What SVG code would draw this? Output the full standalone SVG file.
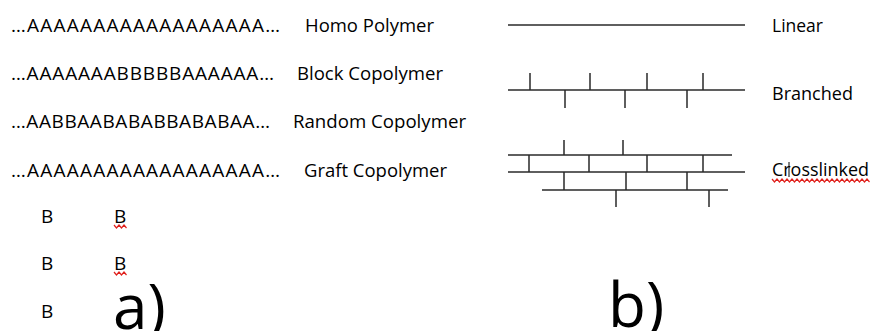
<svg xmlns="http://www.w3.org/2000/svg" width="872" height="331" viewBox="0 0 872 331">
<style>
.t{font-family:"Open Sans","Noto Sans","Liberation Sans",sans-serif;font-size:19px;fill:#000}
.big{font-family:"Open Sans","Noto Sans","Liberation Sans",sans-serif;font-size:62px;fill:#000}
.ln{stroke:#2a2a2a;stroke-width:1.5;fill:none}
.sq{stroke:#e0201c;stroke-width:1.2;fill:none}
</style>
<rect width="872" height="331" fill="#fff"/>
<g id="homo">
<text class="t" x="11" y="32" textLength="269" lengthAdjust="spacing">…AAAAAAAAAAAAAAAAAA…</text>
<text class="t" x="305" y="32" textLength="129" lengthAdjust="spacingAndGlyphs">Homo Polymer</text>
</g>
<g id="block">
<text class="t" x="11" y="80" textLength="263" lengthAdjust="spacing">…AAAAAAABBBBBAAAAAA…</text>
<text class="t" x="297" y="80" textLength="146" lengthAdjust="spacingAndGlyphs">Block Copolymer</text>
</g>
<g id="random">
<text class="t" x="11" y="128" textLength="259" lengthAdjust="spacing">…AABBAABABABBABABAA…</text>
<text class="t" x="293" y="128" textLength="173" lengthAdjust="spacingAndGlyphs">Random Copolymer</text>
</g>
<g id="graft">
<text class="t" x="11" y="177" textLength="269" lengthAdjust="spacing">…AAAAAAAAAAAAAAAAAA…</text>
<text class="t" x="304" y="177" textLength="143" lengthAdjust="spacingAndGlyphs">Graft Copolymer</text>
<text class="t" x="41" y="223">B</text>
<text class="t" x="114" y="223">B</text>
<text class="t" x="41" y="270">B</text>
<text class="t" x="114" y="270">B</text>
<text class="t" x="41" y="318">B</text>
<polyline class="sq" points="114,225 116.5,228 119,225 121.5,228 124,225 126.5,228"/>
<polyline class="sq" points="114,272 116.5,275 119,272 121.5,275 124,272 126.5,275"/>
</g>
<g id="label-a"><text class="big" x="113" y="329">a)</text></g>
<g id="label-b"><text class="big" x="608" y="327">b)</text></g>
<g id="linear">
<line class="ln" x1="508" y1="25" x2="745" y2="25"/>
<text class="t" x="772" y="32" textLength="51" lengthAdjust="spacingAndGlyphs">Linear</text>
</g>
<g id="branched">
<line class="ln" x1="508" y1="90" x2="745" y2="90"/>
<path class="ln" d="M530 73V90M590 73V90M647 73V90M703 73V90M565 90V108M625 90V108M687 90V108"/>
<text class="t" x="772" y="100" textLength="81" lengthAdjust="spacingAndGlyphs">Branched</text>
</g>
<g id="crosslinked">
<line class="ln" x1="508" y1="155" x2="732" y2="155"/>
<line class="ln" x1="508" y1="172" x2="745" y2="172"/>
<line class="ln" x1="542" y1="190" x2="728" y2="190"/>
<path class="ln" d="M564 140V155M623 140V155M529 155V172M589 155V172M647 155V172M703 155V172M564 172V190M626 172V190M687 172V190M616 190V207M709 190V207"/>
<text class="t" x="772" y="176" textLength="97" lengthAdjust="spacingAndGlyphs">Crosslinked</text>
<line x1="789" y1="162" x2="789" y2="177" stroke="#000" stroke-width="1"/>
<polyline class="sq" points="772,179 774.5,182 777,179 779.5,182 782,179 784.5,182 787,179 789.5,182 792,179 794.5,182 797,179 799.5,182 802,179 804.5,182 807,179 809.5,182 812,179 814.5,182 817,179 819.5,182 822,179 824.5,182 827,179 829.5,182 832,179 834.5,182 837,179 839.5,182 842,179 844.5,182 847,179 849.5,182 852,179 854.5,182 857,179 859.5,182 862,179 864.5,182 867,179 869.5,182"/>
</g>
</svg>
